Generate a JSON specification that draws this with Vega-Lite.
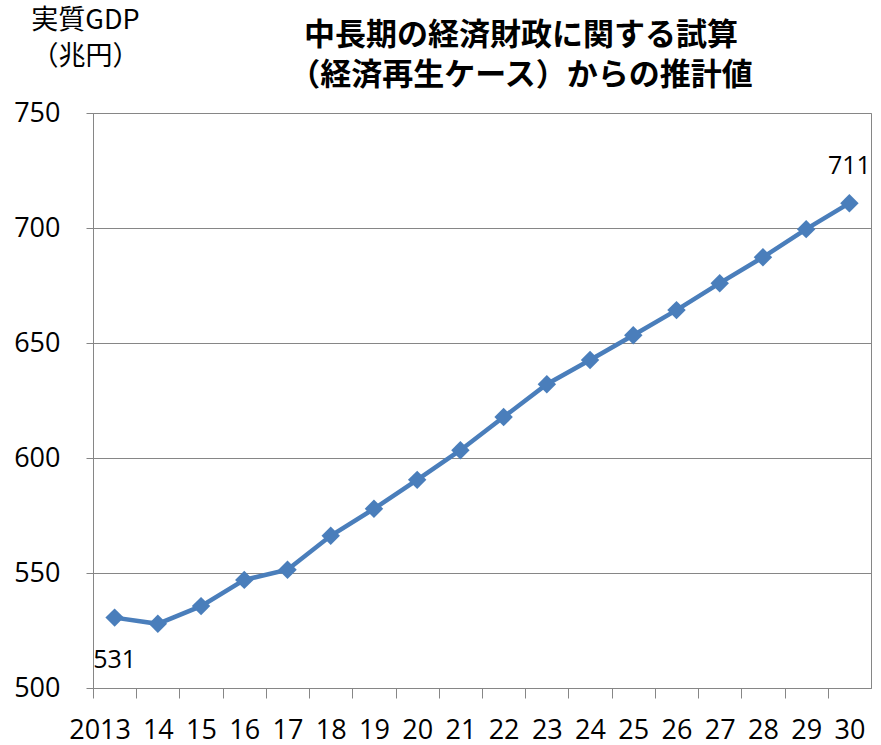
{
  "$schema": "https://vega.github.io/schema/vega-lite/v6.json",
  "width": 778,
  "height": 575,
  "autosize": "none",
  "padding": {"left": 93, "top": 113, "right": 10, "bottom": 57},
  "background": "white",
  "config": {"view": {"stroke": "#868686", "strokeWidth": 1}},
  "title": {
    "text": ["中長期の経済財政に関する試算", "（経済再生ケース）からの推計値"],
    "font": "Noto Sans CJK JP",
    "fontSize": 31,
    "fontWeight": "bold",
    "color": "black",
    "anchor": "middle",
    "dx": 39,
    "lineHeight": 40,
    "offset": -86
  },
  "data": {
    "values": [
      {"year": "2013", "gdp": 530.6},
      {"year": "2014", "gdp": 527.9},
      {"year": "2015", "gdp": 535.6},
      {"year": "2016", "gdp": 547.0},
      {"year": "2017", "gdp": 551.4},
      {"year": "2018", "gdp": 566.2},
      {"year": "2019", "gdp": 577.9},
      {"year": "2020", "gdp": 590.5},
      {"year": "2021", "gdp": 603.4},
      {"year": "2022", "gdp": 617.8},
      {"year": "2023", "gdp": 632.1},
      {"year": "2024", "gdp": 642.6},
      {"year": "2025", "gdp": 653.4},
      {"year": "2026", "gdp": 664.3},
      {"year": "2027", "gdp": 676.0},
      {"year": "2028", "gdp": 687.3},
      {"year": "2029", "gdp": 699.5},
      {"year": "2030", "gdp": 710.8}
    ]
  },
  "encoding": {
    "x": {
      "field": "year",
      "type": "ordinal",
      "scale": {"type": "point", "padding": 0.5},
      "axis": {
        "title": null,
        "tickSize": 10,
        "tickOffset": -21.61,
        "labelOffset": {"condition": {"test": "datum.value == '2013'", "value": 6.6}, "value": 21.61},
        "tickColor": "#868686",
        "domainColor": "#868686",
        "labelFontSize": 27,
        "labelFont": "Open Sans",
        "labelColor": "black",
        "labelPadding": 19,
        "labelAngle": 0,
        "labelOverlap": false,
        "labelExpr": "datum.value == '2013' ? '2013' : slice(datum.value, 2)",
        "grid": false
      }
    },
    "y": {
      "field": "gdp",
      "type": "quantitative",
      "scale": {"domain": [500, 750], "nice": false, "zero": false},
      "axis": {
        "values": [500, 550, 600, 650, 700, 750],
        "tickSize": 7,
        "tickColor": "#868686",
        "gridColor": "#868686",
        "domainColor": "#868686",
        "labelFontSize": 27,
        "labelFont": "Open Sans",
        "labelColor": "black",
        "labelPadding": 26,
        "title": ["実質GDP", "（兆円）"],
        "titleAngle": 0,
        "titleX": -8,
        "titleY": -106,
        "titleAlign": "center",
        "titleBaseline": "top",
        "titleFont": "Noto Sans CJK JP",
        "titleFontSize": 27,
        "titleFontWeight": "normal",
        "titleColor": "black",
        "titleLineHeight": 36
      }
    }
  },
  "layer": [
    {"mark": {"type": "line", "color": "#4A7EBB", "strokeWidth": 4.5}, "encoding": {}},
    {"mark": {"type": "point", "shape": "diamond", "filled": true, "size": 340, "color": "#4A7EBB", "opacity": 1}, "encoding": {}},
    {
      "transform": [{"filter": "datum.year == '2013'"}],
      "mark": {"type": "text", "dy": 42, "fontSize": 25, "font": "Open Sans", "color": "black"},
      "encoding": {"text": {"field": "gdp", "type": "quantitative", "format": ".0f"}}
    },
    {
      "transform": [{"filter": "datum.year == '2030'"}],
      "mark": {"type": "text", "dy": -37, "fontSize": 25, "font": "Open Sans", "color": "black"},
      "encoding": {"text": {"field": "gdp", "type": "quantitative", "format": ".0f"}}
    }
  ]
}
